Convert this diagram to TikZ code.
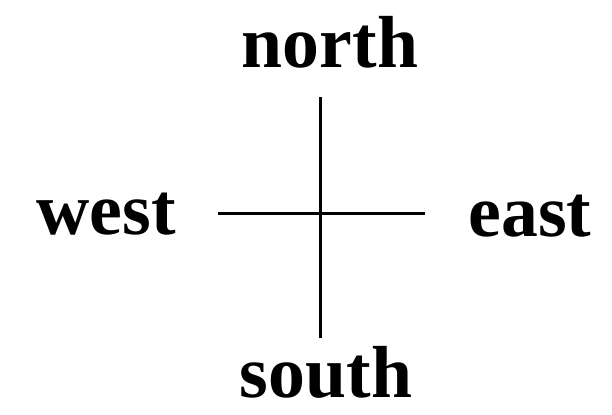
\documentclass[tikz,border=0pt]{standalone}
\usepackage{fontspec}
\newfontfamily\dirfont{Liberation Serif}
\usepackage{tikz}

\begin{document}
\begin{tikzpicture}[
  x=1bp, y=1bp,
  dir/.style={font=\dirfont\bfseries\fontsize{74}{80}\selectfont, inner sep=0pt, anchor=base},
  axis/.style={line width=3bp}
]
\useasboundingbox (0,0) rectangle (612,414);
\node[dir] (north) at (330,347) {north};
\node[dir] (south) at (326,17) {south};
\node[dir] (west) at (106,180) {west};
\node[dir] (east) at (530,178) {east};

\coordinate (top) at (320,317);
\coordinate (bottom) at (320,76);
\coordinate (left) at (218,201);
\coordinate (right) at (425,201);

\draw[axis] (top) -- (bottom);
\draw[axis] (left) -- (right);
\end{tikzpicture}
\end{document}
